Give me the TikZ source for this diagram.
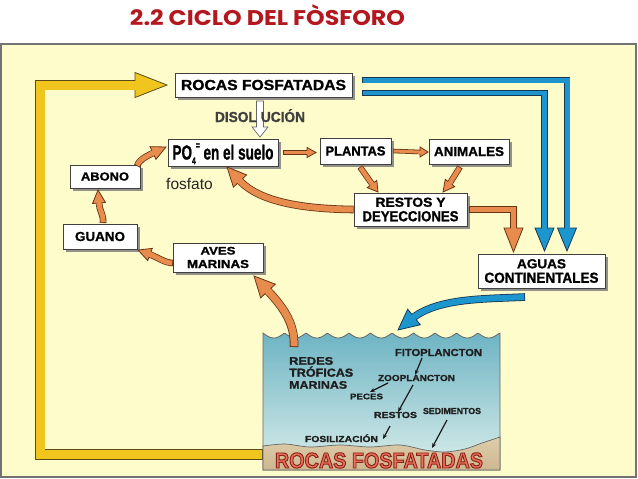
\documentclass[tikz,border=0pt]{standalone}
\usepackage{fontspec}
\usepackage{graphicx}
\setmainfont{Liberation Sans}
\newfontfamily\labf{Liberation Sans}[BoldFeatures={FakeBold=1.2}]
\newfontfamily\bigf{Liberation Sans}
\newfontfamily\titf{Poppins}
\usetikzlibrary{calc,shadows,arrows.meta}

\definecolor{panelF}{RGB}{255,252,204}
\definecolor{orangeF}{RGB}{232,140,78}
\definecolor{outlO}{RGB}{105,52,20}
\definecolor{blueF}{RGB}{28,150,205}
\definecolor{outlB}{RGB}{25,55,85}
\definecolor{yellowF}{RGB}{240,198,30}
\definecolor{outlY}{RGB}{90,75,20}
\definecolor{wTop}{RGB}{110,180,196}
\definecolor{wBot}{RGB}{218,238,234}
\definecolor{rockT}{RGB}{222,205,170}
\definecolor{rockB}{RGB}{205,183,145}
\definecolor{rocasF}{RGB}{232,112,92}
\definecolor{titleC}{RGB}{178,24,30}

\newcommand\capbox[1]{\raisebox{0pt}[\fontcharht\font`X][0pt]{#1}}
\newcommand\fitT[3]{\resizebox{#1pt}{#2pt}{\capbox{#3}}}
\newcommand\outlinetext[1]{\special{pdf:literal direct 2 Tr 0.55 0.14 0.10 RG 0.45 w}#1\special{pdf:literal direct 0 Tr}}
\newcommand\ahead[6]{%
  \filldraw[fill=#4, draw=#6, line width=0.8pt, line join=miter]
    (#2) -- ($(#1)!#3!90:(#2)$) -- ($(#1)!#3!-90:(#2)$) -- cycle;
  \draw[#4, line width=#5] ($(#1)!-2pt!(#2)$) -- ($(#1)!1.5pt!(#2)$);
}

\begin{document}
\begin{tikzpicture}[x=1pt,y=-1pt,
  box/.style={draw=black!75, fill=white, line width=0.8pt, inner sep=0pt,
    drop shadow={shadow xshift=2.5pt, shadow yshift=-2.5pt, fill=black!50, opacity=0.85},
    font=\labf\bfseries, align=center},
  lbl/.style={inner sep=0pt, font=\labf\bfseries, text=black!88},
  arrshaft/.style n args={3}{draw=#1, line width=#3, line join=miter, shorten <=0.8pt,
    preaction={draw=#2, line width=#3+1.6pt, shorten <=0pt}},
  warr/.style={draw=black!90, line width=1.2pt, -{Stealth[length=5pt,width=4pt]}}
]
\useasboundingbox (0,0) rectangle (638,479);
\fill[white] (0,0) rectangle (638,479);

% title
\node[inner sep=0pt, font=\titf\bfseries, text=titleC] (title) at (267.5,17.5)
  {\fitT{275}{15}{2.2 CICLO DEL FÒSFORO}};

% panel
\draw[fill=panelF, draw=black!55, line width=1.2pt] (1,44) rectangle (636,477);

% yellow return arrow
\coordinate (yS) at (263,454.5);
\coordinate (yC1) at (40,454.5);
\coordinate (yC2) at (40,85);
\coordinate (yB) at (135,85);
\coordinate (yT) at (167,85);
\draw[arrshaft={yellowF}{outlY}{9pt}] (yS) -- (yC1) -- (yC2) -- (yB);
\ahead{yB}{yT}{12.5pt}{yellowF}{9pt}{outlY}

% sea
\shadedraw[top color=wTop, bottom color=wBot, draw=black!60, line width=0.8pt]
  plot[domain=263:500, samples=160] (\x,{333+5*abs(sin(8.372*(\x-263)))})
  -- (500,470) -- (263,470) -- cycle;
\shadedraw[top color=rockT, bottom color=rockB, draw=black!60, line width=0.7pt]
  plot[smooth] coordinates {(263,446) (285,444) (310,447) (340,445) (370,447) (400,445)
    (425,450) (445,452) (465,449) (482,443) (500,437)}
  -- (500,470) -- (263,470) -- cycle;

% big rock label with outline
\node[inner sep=0pt, font=\bigf\bfseries, text=rocasF] (rocasbig) at (379,460.5)
  {\fitT{208}{15}{\outlinetext{ROCAS FOSFATADAS}}};

% sea texts
\node[lbl, anchor=north west, align=left, font=\labf\bfseries\fontsize{10pt}{12pt}\selectfont]
  (redes) at (289,357) {\fitT{44}{7.5}{REDES}\\\fitT{64}{8}{TRÓFICAS}\\\fitT{58}{7.5}{MARINAS}};
\node[lbl] (fito) at (438.5,352.5) {\fitT{87}{7}{FITOPLANCTON}};
\node[lbl] (zoo) at (416.5,378) {\fitT{77}{6}{ZOOPLANCTON}};
\node[lbl] (peces) at (366.5,396.5) {\fitT{33}{5.5}{PECES}};
\node[lbl] (restosw) at (395.5,415) {\fitT{43}{6}{RESTOS}};
\node[lbl] (sedim) at (452,411) {\fitT{58}{6}{SEDIMENTOS}};
\node[lbl] (fosil) at (341.5,439) {\fitT{73}{6}{FOSILIZACIÓN}};

\coordinate (w1a) at (422,358); \coordinate (w1b) at (415,375);
\coordinate (w2a) at (388,383); \coordinate (w2b) at (370,392);
\coordinate (w3a) at (413,385); \coordinate (w3b) at (398,412);
\coordinate (w4a) at (390,426); \coordinate (w4b) at (383,439);
\coordinate (w5a) at (447,420); \coordinate (w5b) at (432,448);
\draw[warr] (w1a) -- (w1b);
\draw[warr] (w2a) -- (w2b);
\draw[warr] (w3a) -- (w3b);
\draw[warr] (w4a) -- (w4b);
\draw[warr] (w5a) -- (w5b);

% boxes
\node[box, minimum width=177pt, minimum height=24pt] (rocas) at (263.5,85)
  {\fitT{165}{10}{ROCAS FOSFATADAS}};
\node[box, minimum width=110pt, minimum height=27pt] (po4) at (223,152.5)
  {\fitT{101}{14}{PO\raisebox{-0.45ex}{\tiny 4}\raisebox{1ex}{\tiny =}\ en el suelo}};
\node[box, minimum width=71pt, minimum height=26pt] (plantas) at (355.5,151)
  {\fitT{60}{9}{PLANTAS}};
\node[box, minimum width=80pt, minimum height=25pt] (animales) at (469,151.5)
  {\fitT{70}{9}{ANIMALES}};
\node[box, minimum width=113pt, minimum height=33pt, font=\labf\bfseries\fontsize{10pt}{14.5pt}\selectfont]
  (restos) at (410.5,209.5) {\fitT{70}{9}{RESTOS Y}\\\fitT{96}{10}{DEYECCIONES}};
\node[box, minimum width=70pt, minimum height=23pt] (abono) at (105,176.5)
  {\fitT{48}{8}{ABONO}};
\node[box, minimum width=74pt, minimum height=25pt] (guano) at (100,236.5)
  {\fitT{50}{9}{GUANO}};
\node[box, minimum width=90pt, minimum height=29pt, font=\labf\bfseries\fontsize{10pt}{13.5pt}\selectfont]
  (aves) at (218,257.5) {\fitT{35}{7.5}{AVES}\\\fitT{62}{8}{MARINAS}};
\node[box, minimum width=127pt, minimum height=34pt, font=\labf\bfseries\fontsize{10pt}{14.5pt}\selectfont]
  (aguas) at (541.5,271) {\fitT{49}{9}{AGUAS}\\\fitT{114}{10}{CONTINENTALES}};

\node[inner sep=0pt, anchor=base west, font=\fontsize{15.5pt}{18pt}\selectfont, text=black!85]
  (fosf) at (166,189) {fosfato};

% disolucion arrow
\filldraw[fill=white, draw=black!60, line width=0.7pt]
  (256.5,101) -- (263.5,101) -- (263.5,127) -- (268,127) -- (260,137)
  -- (252,127) -- (256.5,127) -- cycle;
\node[lbl, text=black!75] (disol) at (260,117) {\fitT{90}{10}{DISOL\hspace{0.3em}UCIÓN}};

% blue arrows
\coordinate (b1s) at (362,80); \coordinate (b1c) at (567,80);
\coordinate (b1b) at (567,228); \coordinate (b1t) at (567,251);
\draw[arrshaft={blueF}{outlB}{5pt}] (b1s) -- (b1c) -- (b1b);
\ahead{b1b}{b1t}{9.5pt}{blueF}{5pt}{outlB}
\coordinate (b2s) at (362,93); \coordinate (b2c) at (544.5,93);
\coordinate (b2b) at (544.5,228); \coordinate (b2t) at (544.5,251);
\draw[arrshaft={blueF}{outlB}{4.5pt}] (b2s) -- (b2c) -- (b2b);
\ahead{b2b}{b2t}{9.5pt}{blueF}{4.5pt}{outlB}
\coordinate (b3s) at (525,297); \coordinate (b3b) at (414,317); \coordinate (b3t) at (398,330);
\draw[arrshaft={blueF}{outlB}{6pt}] (b3s) .. controls (485,299) and (440,298) .. (b3b);
\ahead{b3b}{b3t}{10pt}{blueF}{6pt}{outlB}

% orange arrows
\coordinate (o1s) at ($(po4.east)+(5,0)$); \coordinate (o1b) at (307,152.5); \coordinate (o1t) at (316,152.5);
\draw[arrshaft={orangeF}{outlO}{3pt}] (o1s) -- (o1b);
\ahead{o1b}{o1t}{5pt}{orangeF}{3pt}{outlO}
\coordinate (o2s) at ($(plantas.east)+(2,0)$); \coordinate (o2b) at (420,152); \coordinate (o2t) at (428,152);
\draw[arrshaft={orangeF}{outlO}{3pt}] (o2s) -- (o2b);
\ahead{o2b}{o2t}{5pt}{orangeF}{3pt}{outlO}
\coordinate (o3s) at (360,167); \coordinate (o3b) at (372,184); \coordinate (o3t) at (378,192);
\draw[arrshaft={orangeF}{outlO}{4.5pt}] (o3s) -- (o3b);
\ahead{o3b}{o3t}{6pt}{orangeF}{4.5pt}{outlO}
\coordinate (o4s) at (460,167); \coordinate (o4b) at (450,183); \coordinate (o4t) at (443,192);
\draw[arrshaft={orangeF}{outlO}{4.5pt}] (o4s) -- (o4b);
\ahead{o4b}{o4t}{6pt}{orangeF}{4.5pt}{outlO}
\coordinate (o5s) at ($(restos.east)+(2,0)$); \coordinate (o5c) at (513.5,209.5);
\coordinate (o5b) at (513.5,228); \coordinate (o5t) at (513.5,252);
\draw[arrshaft={orangeF}{outlO}{5pt}] (o5s) -- (o5c) -- (o5b);
\ahead{o5b}{o5t}{9.5pt}{orangeF}{5pt}{outlO}
\coordinate (o6b) at (240,181); \coordinate (o6t) at (227,167);
\draw[arrshaft={orangeF}{outlO}{6pt}] (restos.west) .. controls (300,209) and (259,201) .. (o6b);
\ahead{o6b}{o6t}{9pt}{orangeF}{6pt}{outlO}
\coordinate (o7s) at (137,166); \coordinate (o7b) at (153,153); \coordinate (o7t) at (166,147);
\draw[arrshaft={orangeF}{outlO}{5pt}] (o7s) .. controls (139,160) and (145,157) .. (o7b);
\ahead{o7b}{o7t}{7pt}{orangeF}{5pt}{outlO}
\coordinate (o8s) at (103,223); \coordinate (o8b) at (99,203); \coordinate (o8t) at (98,190);
\draw[arrshaft={orangeF}{outlO}{5pt}] (o8s) .. controls (104,215) and (99,210) .. (o8b);
\ahead{o8b}{o8t}{6.5pt}{orangeF}{5pt}{outlO}
\coordinate (o9s) at (173,263); \coordinate (o9b) at (150,254.5); \coordinate (o9t) at (138,250);
\draw[arrshaft={orangeF}{outlO}{5pt}] (o9s) .. controls (165,263) and (157,257) .. (o9b);
\ahead{o9b}{o9t}{6.5pt}{orangeF}{5pt}{outlO}
\coordinate (o10s) at (294,347); \coordinate (o10b) at (268,291); \coordinate (o10t) at (254,276);
\draw[arrshaft={orangeF}{outlO}{7pt}] (o10s) .. controls (295,325) and (285,309) .. (o10b);
\ahead{o10b}{o10t}{10pt}{orangeF}{7pt}{outlO}
\end{tikzpicture}
\end{document}
